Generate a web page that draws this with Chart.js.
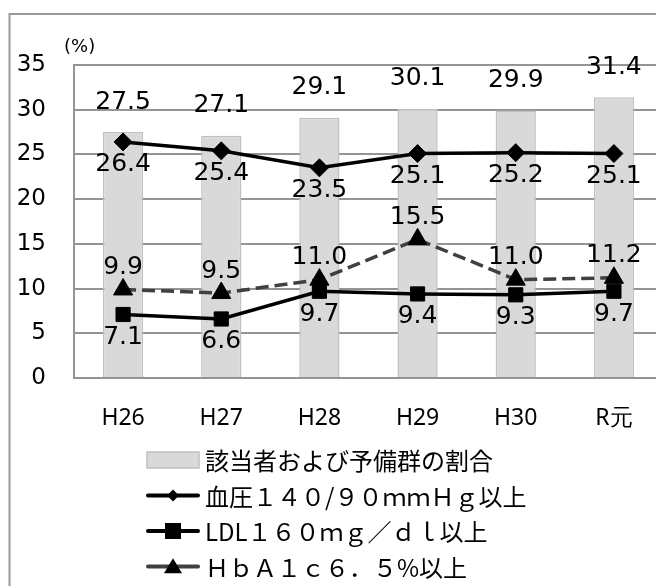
<!DOCTYPE html>
<html>
<head>
<meta charset="utf-8">
<script src="https://cdn.jsdelivr.net/npm/chart.js@4/dist/chart.umd.min.js"></script>
<style>
  html, body { margin: 0; padding: 0; background: #fff; overflow: hidden; }
  canvas { display: block; }
</style>
</head>
<body>
<canvas id="c" width="680" height="586"></canvas>
<script>
// Fiscal years
const categories = ['H26', 'H27', 'H28', 'H29', 'H30', 'R元'];
// Share of applicable persons and reserve group (%)
const shareRate = [27.5, 27.1, 29.1, 30.1, 29.9, 31.4];
// Blood pressure 140/90 mmHg or more (%)
const bloodPressure = [26.4, 25.4, 23.5, 25.1, 25.2, 25.1];
// LDL 160 mg/dl or more (%)
const ldl = [7.1, 6.6, 9.7, 9.4, 9.3, 9.7];
// HbA1c 6.5% or more (%)
const hba1c = [9.9, 9.5, 11.0, 15.5, 11.0, 11.2];
// Y axis ticks
const yTicks = [0, 5, 10, 15, 20, 25, 30, 35];
// Series names
const seriesNames = [
  '該当者および予備群の割合',
  '血圧１４０/９０ｍｍＨｇ以上',
  'LDL１６０ｍｇ／ｄｌ以上',
  'ＨｂＡ１ｃ６．５%以上'
];

const GRID = '#949494';
const LABEL_FONT = '25px "DejaVu Sans"';
const JP_FONT = '"Noto Sans CJK JP"';

// Outer frame and the unit caption
const framePlugin = {
  id: 'frame',
  beforeDraw(chart) {
    const ctx = chart.ctx;
    ctx.save();
    ctx.fillStyle = '#fff';
    ctx.fillRect(0, 0, chart.width, chart.height);
    ctx.strokeStyle = '#9a9a9a';
    ctx.lineWidth = 2;
    ctx.strokeRect(9.5, 14, chart.width + 20, chart.height + 20);
    ctx.fillStyle = '#000';
    ctx.font = '18px "DejaVu Sans"';
    ctx.textAlign = 'left';
    ctx.textBaseline = 'middle';
    ctx.fillText('(%)', 64, 47);
    ctx.restore();
  }
};

// Value labels placed relative to each mark
const valueLabels = {
  id: 'valueLabels',
  afterDatasetsDraw(chart) {
    const ctx = chart.ctx;
    ctx.save();
    ctx.font = LABEL_FONT;
    ctx.fillStyle = '#000';
    ctx.textAlign = 'center';
    ctx.textBaseline = 'middle';
    chart.data.datasets.forEach((ds, i) => {
      const meta = chart.getDatasetMeta(i);
      meta.data.forEach((el, j) => {
        ctx.fillText(ds.data[j].toFixed(1), el.x, el.y + ds.labelOffset);
      });
    });
    ctx.restore();
  }
};

// Vertical legend below the axis
const stackedLegend = {
  id: 'stackedLegend',
  afterDraw(chart) {
    const ctx = chart.ctx;
    const x0 = 146, x1 = 200, tx = 205;
    const y0 = chart.chartArea.bottom + 82, step = 35.5;
    ctx.save();
    chart.data.datasets.forEach((ds, i) => {
      const y = y0 + i * step;
      const cx = (x0 + x1) / 2;
      if (ds.type === 'bar') {
        ctx.fillStyle = ds.backgroundColor;
        ctx.strokeStyle = ds.borderColor;
        ctx.lineWidth = 1.5;
        ctx.fillRect(x0 + 1, y - 8, x1 - x0 - 2, 16);
        ctx.strokeRect(x0 + 1, y - 8, x1 - x0 - 2, 16);
      } else {
        ctx.strokeStyle = ds.borderColor;
        ctx.lineWidth = 4;
        ctx.lineCap = 'round';
        ctx.beginPath();
        ctx.moveTo(x0 + 2, y);
        ctx.lineTo(x1 - 2, y);
        ctx.stroke();
        ctx.fillStyle = '#000';
        ctx.beginPath();
        if (ds.pointStyle === 'rectRot') {
          const r = 6;
          ctx.moveTo(cx, y - r); ctx.lineTo(cx + r, y); ctx.lineTo(cx, y + r); ctx.lineTo(cx - r, y);
        } else if (ds.pointStyle === 'rect') {
          const s = 8;
          ctx.rect(cx - s, y - s, 2 * s, 2 * s);
        } else {
          const w = 9, h = 15;
          ctx.moveTo(cx, y - h * 0.55); ctx.lineTo(cx + w, y + h * 0.45); ctx.lineTo(cx - w, y + h * 0.45);
        }
        ctx.closePath();
        ctx.fill();
      }
      ctx.fillStyle = '#000';
      ctx.font = '24px ' + JP_FONT;
      ctx.textAlign = 'left';
      ctx.textBaseline = 'middle';
      ctx.fillText(seriesNames[i], tx, y + 1);
    });
    ctx.restore();
  }
};

new Chart(document.getElementById('c'), {
  data: {
    labels: categories,
    datasets: [
      {
        type: 'bar',
        label: seriesNames[0],
        data: shareRate,
        backgroundColor: '#d9d9d9',
        borderColor: '#c0c0c0',
        borderWidth: 1.5,
        categoryPercentage: 1,
        barPercentage: 0.41,
        order: 4,
        labelOffset: -30
      },
      {
        type: 'line',
        label: seriesNames[1],
        data: bloodPressure,
        borderColor: '#000',
        borderWidth: 3.5,
        pointStyle: 'rectRot',
        pointRadius: 9,
        pointBackgroundColor: '#000',
        pointBorderColor: '#000',
        pointBorderWidth: 1,
        tension: 0,
        order: 3,
        labelOffset: 23
      },
      {
        type: 'line',
        label: seriesNames[2],
        data: ldl,
        borderColor: '#000',
        borderWidth: 3.5,
        pointStyle: 'rect',
        pointRadius: 10,
        pointBackgroundColor: '#000',
        pointBorderColor: '#000',
        pointBorderWidth: 1,
        tension: 0,
        order: 2,
        labelOffset: 23
      },
      {
        type: 'line',
        label: seriesNames[3],
        data: hba1c,
        borderColor: '#404040',
        borderWidth: 3.5,
        borderDash: [13, 6],
        pointStyle: 'triangle',
        pointRadius: 11,
        pointBackgroundColor: '#000',
        pointBorderColor: '#000',
        pointBorderWidth: 1,
        tension: 0,
        order: 1,
        labelOffset: -22
      }
    ]
  },
  options: {
    responsive: false,
    animation: false,
    events: [],
    layout: { padding: { top: 65, right: 17, bottom: 158, left: 0 } },
    plugins: {
      legend: { display: false },
      tooltip: { enabled: false },
      title: { display: false }
    },
    scales: {
      x: {
        type: 'category',
        offset: true,
        grid: { display: false, drawTicks: false },
        border: { display: true, color: GRID, width: 2 },
        ticks: {
          color: '#000',
          padding: 27,
          maxRotation: 0,
          autoSkip: false,
          font: { family: 'Noto Sans', size: 23 }
        },
        afterFit(s) { s.height = 50; }
      },
      y: {
        min: 0,
        max: 35,
        afterBuildTicks(s) { s.ticks = yTicks.map(v => ({ value: v })); },
        grid: { color: GRID, lineWidth: 2, drawTicks: false },
        border: { display: true, color: GRID, width: 2 },
        ticks: {
          color: '#000',
          padding: 28,
          font: { family: 'DejaVu Sans', size: 23 }
        },
        afterFit(s) { s.width = 74; }
      }
    }
  },
  plugins: [framePlugin, valueLabels, stackedLegend]
});
</script>
</body>
</html>
